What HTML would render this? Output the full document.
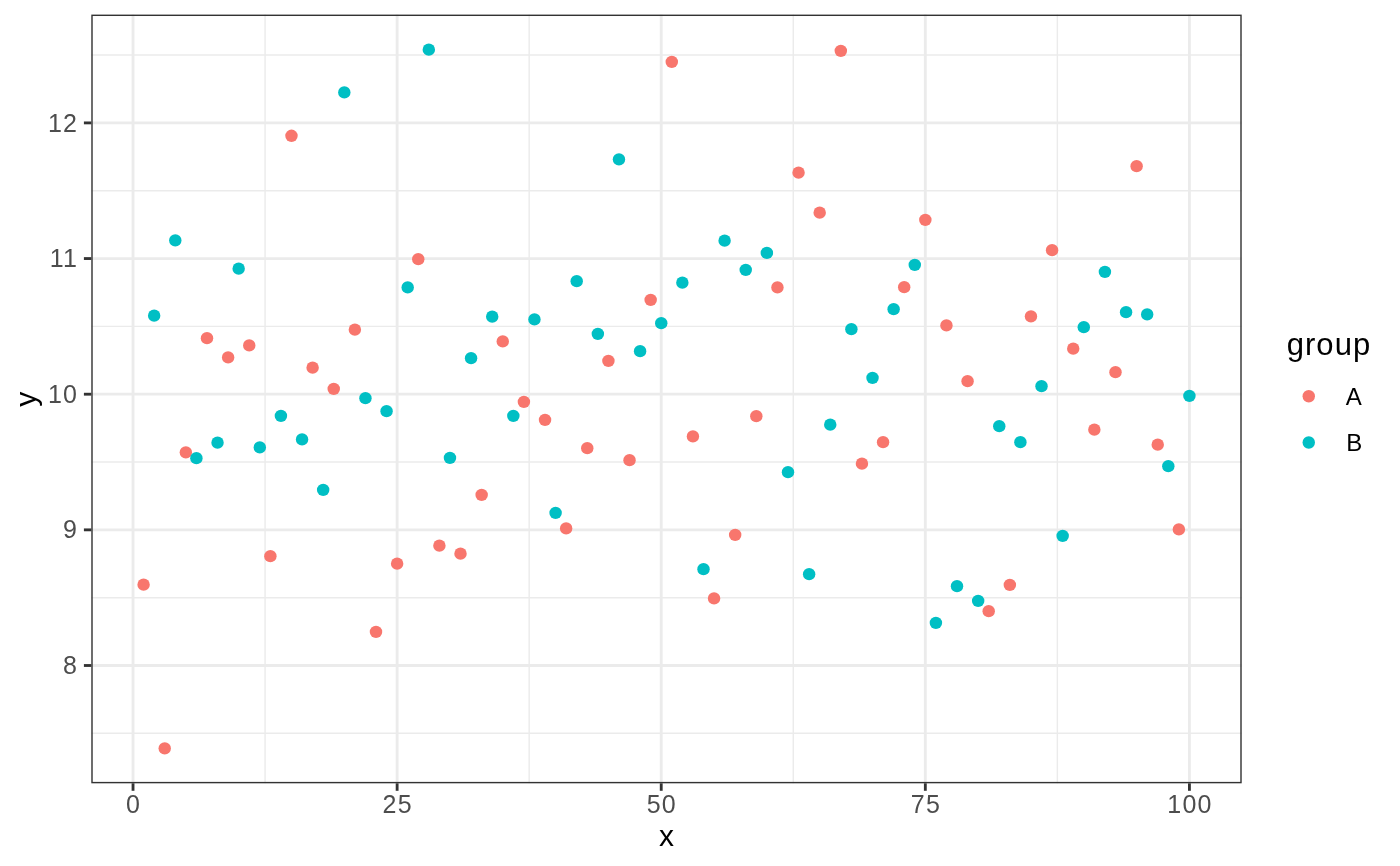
<!DOCTYPE html>
<html><head><meta charset="utf-8"><title>plot</title>
<style>
html,body{margin:0;padding:0;background:#fff;}
body{width:1400px;height:866px;overflow:hidden;}
svg{display:block;will-change:transform;}
text{font-family:"Liberation Sans",sans-serif;}
.tk{font-size:25px;fill:#4D4D4D;letter-spacing:1.2px;}
.tt{font-size:30px;fill:#000;}
.gt{font-size:31px;fill:#000;letter-spacing:1.05px;}
.lg{font-size:24px;fill:#000;}
</style></head><body>
<svg width="1400" height="866" viewBox="0 0 1400 866">
<rect x="0" y="0" width="1400" height="866" fill="#fff"/>
<g stroke="#EBEBEB" stroke-width="1.42" fill="none">
<line x1="265.08" y1="14.6" x2="265.08" y2="783.3"/>
<line x1="529.18" y1="14.6" x2="529.18" y2="783.3"/>
<line x1="793.28" y1="14.6" x2="793.28" y2="783.3"/>
<line x1="1057.38" y1="14.6" x2="1057.38" y2="783.3"/>
<line x1="91.3" y1="733.33" x2="1241.7" y2="733.33"/>
<line x1="91.3" y1="597.68" x2="1241.7" y2="597.68"/>
<line x1="91.3" y1="462.02" x2="1241.7" y2="462.02"/>
<line x1="91.3" y1="326.38" x2="1241.7" y2="326.38"/>
<line x1="91.3" y1="190.73" x2="1241.7" y2="190.73"/>
<line x1="91.3" y1="55.08" x2="1241.7" y2="55.08"/>
</g>
<g stroke="#EBEBEB" stroke-width="2.84" fill="none">
<line x1="133.03" y1="14.6" x2="133.03" y2="783.3"/>
<line x1="397.13" y1="14.6" x2="397.13" y2="783.3"/>
<line x1="661.23" y1="14.6" x2="661.23" y2="783.3"/>
<line x1="925.33" y1="14.6" x2="925.33" y2="783.3"/>
<line x1="1189.43" y1="14.6" x2="1189.43" y2="783.3"/>
<line x1="91.3" y1="665.50" x2="1241.7" y2="665.50"/>
<line x1="91.3" y1="529.85" x2="1241.7" y2="529.85"/>
<line x1="91.3" y1="394.20" x2="1241.7" y2="394.20"/>
<line x1="91.3" y1="258.55" x2="1241.7" y2="258.55"/>
<line x1="91.3" y1="122.90" x2="1241.7" y2="122.90"/>
</g>
<g stroke="none">
<circle cx="143.59" cy="584.65" r="6.22" fill="#F8766D"/>
<circle cx="154.16" cy="315.65" r="6.22" fill="#00BFC4"/>
<circle cx="164.72" cy="748.40" r="6.22" fill="#F8766D"/>
<circle cx="175.29" cy="240.40" r="6.22" fill="#00BFC4"/>
<circle cx="185.85" cy="452.40" r="6.22" fill="#F8766D"/>
<circle cx="196.41" cy="458.15" r="6.22" fill="#00BFC4"/>
<circle cx="206.98" cy="338.15" r="6.22" fill="#F8766D"/>
<circle cx="217.54" cy="442.65" r="6.22" fill="#00BFC4"/>
<circle cx="228.11" cy="357.40" r="6.22" fill="#F8766D"/>
<circle cx="238.67" cy="268.65" r="6.22" fill="#00BFC4"/>
<circle cx="249.23" cy="345.40" r="6.22" fill="#F8766D"/>
<circle cx="259.80" cy="447.40" r="6.22" fill="#00BFC4"/>
<circle cx="270.36" cy="556.15" r="6.22" fill="#F8766D"/>
<circle cx="280.93" cy="415.90" r="6.22" fill="#00BFC4"/>
<circle cx="291.49" cy="135.80" r="6.22" fill="#F8766D"/>
<circle cx="302.05" cy="439.40" r="6.22" fill="#00BFC4"/>
<circle cx="312.62" cy="367.65" r="6.22" fill="#F8766D"/>
<circle cx="323.18" cy="489.90" r="6.22" fill="#00BFC4"/>
<circle cx="333.75" cy="388.90" r="6.22" fill="#F8766D"/>
<circle cx="344.31" cy="92.40" r="6.22" fill="#00BFC4"/>
<circle cx="354.87" cy="329.65" r="6.22" fill="#F8766D"/>
<circle cx="365.44" cy="398.15" r="6.22" fill="#00BFC4"/>
<circle cx="376.00" cy="631.90" r="6.22" fill="#F8766D"/>
<circle cx="386.57" cy="411.15" r="6.22" fill="#00BFC4"/>
<circle cx="397.13" cy="563.65" r="6.22" fill="#F8766D"/>
<circle cx="407.69" cy="287.40" r="6.22" fill="#00BFC4"/>
<circle cx="418.26" cy="259.15" r="6.22" fill="#F8766D"/>
<circle cx="428.82" cy="49.65" r="6.22" fill="#00BFC4"/>
<circle cx="439.39" cy="545.65" r="6.22" fill="#F8766D"/>
<circle cx="449.95" cy="457.90" r="6.22" fill="#00BFC4"/>
<circle cx="460.51" cy="553.65" r="6.22" fill="#F8766D"/>
<circle cx="471.08" cy="358.15" r="6.22" fill="#00BFC4"/>
<circle cx="481.64" cy="494.90" r="6.22" fill="#F8766D"/>
<circle cx="492.21" cy="316.65" r="6.22" fill="#00BFC4"/>
<circle cx="502.77" cy="341.40" r="6.22" fill="#F8766D"/>
<circle cx="513.33" cy="415.90" r="6.22" fill="#00BFC4"/>
<circle cx="523.90" cy="401.90" r="6.22" fill="#F8766D"/>
<circle cx="534.46" cy="319.40" r="6.22" fill="#00BFC4"/>
<circle cx="545.03" cy="419.90" r="6.22" fill="#F8766D"/>
<circle cx="555.59" cy="512.90" r="6.22" fill="#00BFC4"/>
<circle cx="566.15" cy="528.40" r="6.22" fill="#F8766D"/>
<circle cx="576.72" cy="281.15" r="6.22" fill="#00BFC4"/>
<circle cx="587.28" cy="448.15" r="6.22" fill="#F8766D"/>
<circle cx="597.85" cy="333.90" r="6.22" fill="#00BFC4"/>
<circle cx="608.41" cy="360.90" r="6.22" fill="#F8766D"/>
<circle cx="618.97" cy="159.40" r="6.22" fill="#00BFC4"/>
<circle cx="629.54" cy="460.15" r="6.22" fill="#F8766D"/>
<circle cx="640.10" cy="351.15" r="6.22" fill="#00BFC4"/>
<circle cx="650.67" cy="299.90" r="6.22" fill="#F8766D"/>
<circle cx="661.23" cy="323.15" r="6.22" fill="#00BFC4"/>
<circle cx="671.79" cy="61.90" r="6.22" fill="#F8766D"/>
<circle cx="682.36" cy="282.65" r="6.22" fill="#00BFC4"/>
<circle cx="692.92" cy="436.40" r="6.22" fill="#F8766D"/>
<circle cx="703.49" cy="569.15" r="6.22" fill="#00BFC4"/>
<circle cx="714.05" cy="598.40" r="6.22" fill="#F8766D"/>
<circle cx="724.61" cy="240.65" r="6.22" fill="#00BFC4"/>
<circle cx="735.18" cy="534.90" r="6.22" fill="#F8766D"/>
<circle cx="745.74" cy="269.90" r="6.22" fill="#00BFC4"/>
<circle cx="756.31" cy="416.15" r="6.22" fill="#F8766D"/>
<circle cx="766.87" cy="252.90" r="6.22" fill="#00BFC4"/>
<circle cx="777.43" cy="287.40" r="6.22" fill="#F8766D"/>
<circle cx="788.00" cy="472.15" r="6.22" fill="#00BFC4"/>
<circle cx="798.56" cy="172.65" r="6.22" fill="#F8766D"/>
<circle cx="809.13" cy="574.15" r="6.22" fill="#00BFC4"/>
<circle cx="819.69" cy="212.65" r="6.22" fill="#F8766D"/>
<circle cx="830.25" cy="424.65" r="6.22" fill="#00BFC4"/>
<circle cx="840.82" cy="50.90" r="6.22" fill="#F8766D"/>
<circle cx="851.38" cy="329.15" r="6.22" fill="#00BFC4"/>
<circle cx="861.95" cy="463.65" r="6.22" fill="#F8766D"/>
<circle cx="872.51" cy="377.90" r="6.22" fill="#00BFC4"/>
<circle cx="883.07" cy="442.15" r="6.22" fill="#F8766D"/>
<circle cx="893.64" cy="309.15" r="6.22" fill="#00BFC4"/>
<circle cx="904.20" cy="287.15" r="6.22" fill="#F8766D"/>
<circle cx="914.77" cy="264.90" r="6.22" fill="#00BFC4"/>
<circle cx="925.33" cy="219.90" r="6.22" fill="#F8766D"/>
<circle cx="935.89" cy="622.90" r="6.22" fill="#00BFC4"/>
<circle cx="946.46" cy="325.40" r="6.22" fill="#F8766D"/>
<circle cx="957.02" cy="586.15" r="6.22" fill="#00BFC4"/>
<circle cx="967.59" cy="381.15" r="6.22" fill="#F8766D"/>
<circle cx="978.15" cy="600.90" r="6.22" fill="#00BFC4"/>
<circle cx="988.71" cy="611.15" r="6.22" fill="#F8766D"/>
<circle cx="999.28" cy="426.15" r="6.22" fill="#00BFC4"/>
<circle cx="1009.84" cy="584.90" r="6.22" fill="#F8766D"/>
<circle cx="1020.41" cy="442.15" r="6.22" fill="#00BFC4"/>
<circle cx="1030.97" cy="316.40" r="6.22" fill="#F8766D"/>
<circle cx="1041.53" cy="386.15" r="6.22" fill="#00BFC4"/>
<circle cx="1052.10" cy="250.15" r="6.22" fill="#F8766D"/>
<circle cx="1062.66" cy="535.90" r="6.22" fill="#00BFC4"/>
<circle cx="1073.23" cy="348.65" r="6.22" fill="#F8766D"/>
<circle cx="1083.79" cy="327.15" r="6.22" fill="#00BFC4"/>
<circle cx="1094.35" cy="429.65" r="6.22" fill="#F8766D"/>
<circle cx="1104.92" cy="271.90" r="6.22" fill="#00BFC4"/>
<circle cx="1115.48" cy="372.15" r="6.22" fill="#F8766D"/>
<circle cx="1126.05" cy="312.15" r="6.22" fill="#00BFC4"/>
<circle cx="1136.61" cy="166.15" r="6.22" fill="#F8766D"/>
<circle cx="1147.17" cy="314.40" r="6.22" fill="#00BFC4"/>
<circle cx="1157.74" cy="444.65" r="6.22" fill="#F8766D"/>
<circle cx="1168.30" cy="466.15" r="6.22" fill="#00BFC4"/>
<circle cx="1178.87" cy="529.40" r="6.22" fill="#F8766D"/>
<circle cx="1189.43" cy="395.90" r="6.22" fill="#00BFC4"/>
</g>
<rect x="92.00" y="15.30" width="1149.00" height="767.30" fill="none" stroke="#333333" stroke-width="1.42"/>
<g stroke="#333333" stroke-width="2.84">
<line x1="133.03" y1="783.3" x2="133.03" y2="790.8"/>
<line x1="397.13" y1="783.3" x2="397.13" y2="790.8"/>
<line x1="661.23" y1="783.3" x2="661.23" y2="790.8"/>
<line x1="925.33" y1="783.3" x2="925.33" y2="790.8"/>
<line x1="1189.43" y1="783.3" x2="1189.43" y2="790.8"/>
<line x1="83.90" y1="665.50" x2="91.3" y2="665.50"/>
<line x1="83.90" y1="529.85" x2="91.3" y2="529.85"/>
<line x1="83.90" y1="394.20" x2="91.3" y2="394.20"/>
<line x1="83.90" y1="258.55" x2="91.3" y2="258.55"/>
<line x1="83.90" y1="122.90" x2="91.3" y2="122.90"/>
</g>
<text class="tk" x="133.63" y="813.4" text-anchor="middle">0</text>
<text class="tk" x="397.73" y="813.4" text-anchor="middle">25</text>
<text class="tk" x="661.83" y="813.4" text-anchor="middle">50</text>
<text class="tk" x="925.93" y="813.4" text-anchor="middle">75</text>
<text class="tk" x="1190.03" y="813.4" text-anchor="middle">100</text>
<text class="tk" x="78.2" y="674.10" text-anchor="end">8</text>
<text class="tk" x="78.2" y="538.45" text-anchor="end">9</text>
<text class="tk" x="78.2" y="402.80" text-anchor="end">10</text>
<text class="tk" x="78.2" y="267.15" text-anchor="end">11</text>
<text class="tk" x="78.2" y="131.50" text-anchor="end">12</text>
<text class="tt" x="666.5" y="846" text-anchor="middle">x</text>
<text class="tt" transform="translate(36,399.3) rotate(-90)" text-anchor="middle">y</text>
<text class="gt" x="1286.7" y="355">group</text>
<circle cx="1308.75" cy="396.25" r="6.22" fill="#F8766D"/>
<circle cx="1308.75" cy="442.5" r="6.22" fill="#00BFC4"/>
<text class="lg" x="1353.85" y="405" text-anchor="middle">A</text>
<text class="lg" x="1354.3" y="450.9" text-anchor="middle">B</text>
</svg>
</body></html>
